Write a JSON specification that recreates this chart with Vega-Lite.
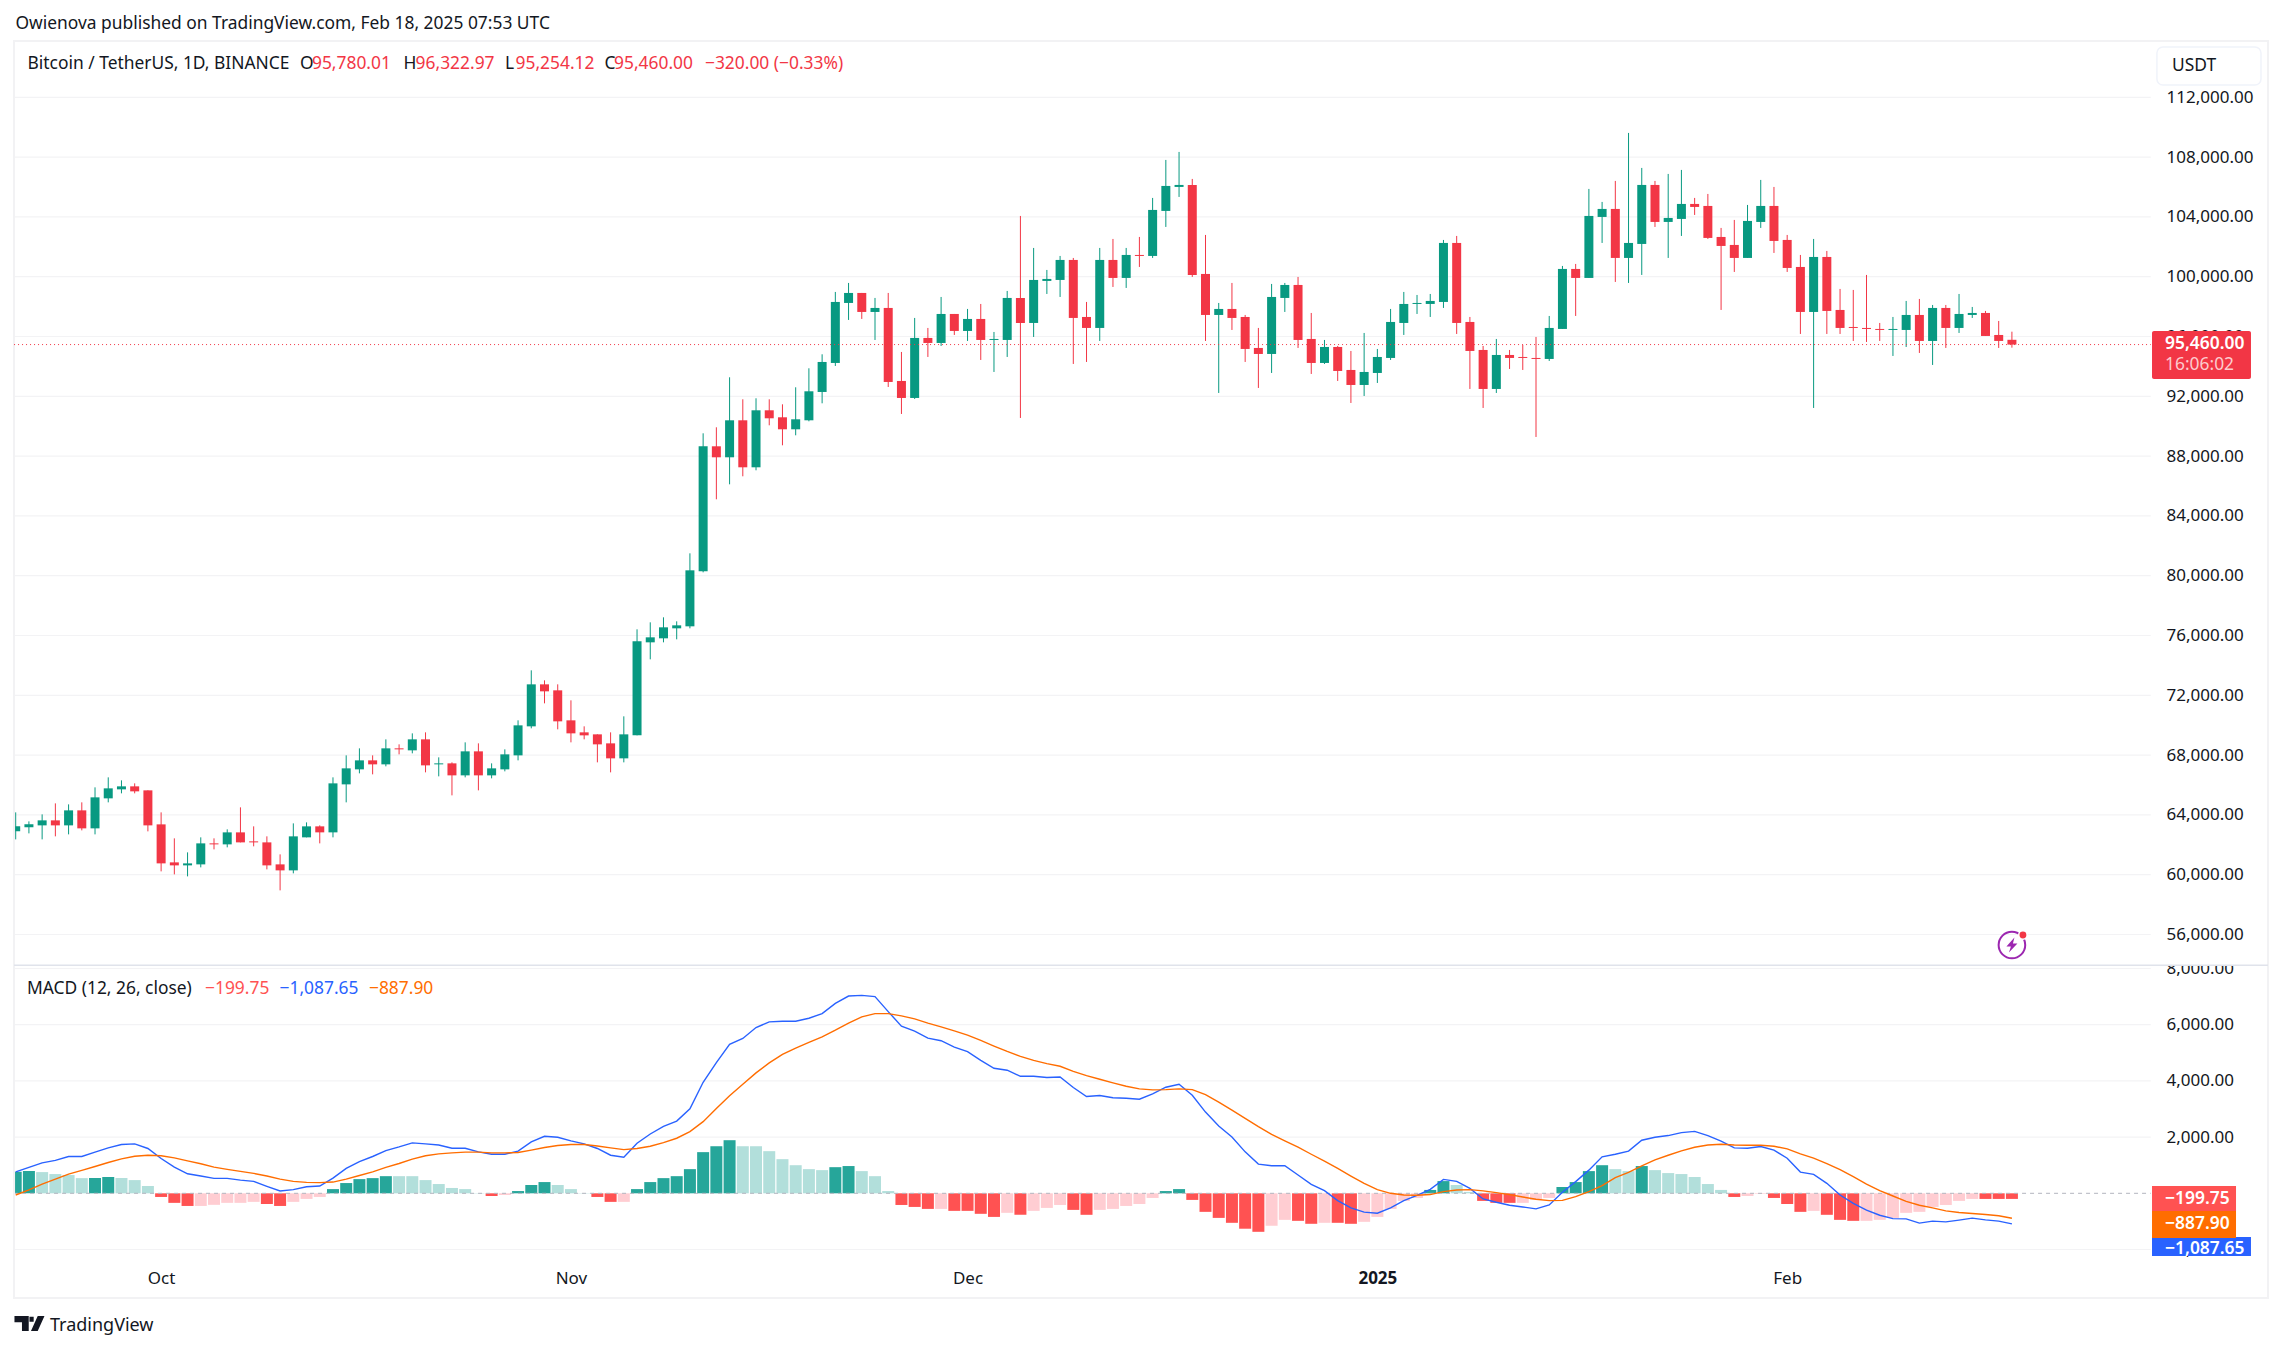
{
"$schema":"https://vega.github.io/schema/vega-lite/v6.json",
"width":2283,"height":1351,"padding":0,"background":"#ffffff",
"config":{"view":{"stroke":null},"text":{"font":"Noto Sans","fontSize":17.4,"align":"left","baseline":"middle"}},
"datasets":{
"bars":[
{"d":"2024-09-20","o":62899,"h":64170,"l":62364,"c":63234,"m":765,"t":"gs","b":765,"s":-60},
{"d":"2024-09-21","o":63167,"h":63568,"l":62765,"c":63367,"m":790,"t":"gs","b":920,"s":120},
{"d":"2024-09-22","o":63300,"h":64036,"l":62364,"c":63635,"m":755,"t":"gl","b":1085,"s":330},
{"d":"2024-09-23","o":63635,"h":64772,"l":62565,"c":63300,"m":685,"t":"gl","b":1170,"s":505},
{"d":"2024-09-24","o":63300,"h":64705,"l":62698,"c":64304,"m":650,"t":"gl","b":1310,"s":685},
{"d":"2024-09-25","o":64304,"h":64839,"l":62966,"c":63100,"m":540,"t":"gl","b":1310,"s":815},
{"d":"2024-09-26","o":63100,"h":65843,"l":62698,"c":65174,"m":545,"t":"gs","b":1465,"s":955},
{"d":"2024-09-27","o":65107,"h":66512,"l":64839,"c":65776,"m":580,"t":"gs","b":1615,"s":1095},
{"d":"2024-09-28","o":65709,"h":66311,"l":65441,"c":65910,"m":545,"t":"gl","b":1735,"s":1225},
{"d":"2024-09-29","o":65910,"h":66110,"l":65441,"c":65575,"m":470,"t":"gl","b":1760,"s":1320},
{"d":"2024-09-30","o":65642,"h":65642,"l":62899,"c":63300,"m":260,"t":"gl","b":1595,"s":1355},
{"d":"2024-10-01","o":63367,"h":64170,"l":60223,"c":60758,"m":-130,"t":"rs","b":1240,"s":1335},
{"d":"2024-10-02","o":60825,"h":62431,"l":60022,"c":60624,"m":-340,"t":"rs","b":930,"s":1260},
{"d":"2024-10-03","o":60624,"h":61494,"l":59889,"c":60758,"m":-450,"t":"rs","b":695,"s":1155},
{"d":"2024-10-04","o":60691,"h":62498,"l":60491,"c":62096,"m":-450,"t":"rl","b":615,"s":1050},
{"d":"2024-10-05","o":62096,"h":62431,"l":61695,"c":62029,"m":-410,"t":"rl","b":530,"s":930},
{"d":"2024-10-06","o":62029,"h":63033,"l":61829,"c":62832,"m":-340,"t":"rl","b":530,"s":850},
{"d":"2024-10-07","o":62832,"h":64505,"l":62163,"c":62163,"m":-340,"t":"rl","b":470,"s":780},
{"d":"2024-10-08","o":62230,"h":63234,"l":61896,"c":62163,"m":-305,"t":"rl","b":425,"s":710},
{"d":"2024-10-09","o":62163,"h":62565,"l":60357,"c":60624,"m":-380,"t":"rs","b":250,"s":615},
{"d":"2024-10-10","o":60691,"h":61360,"l":58952,"c":60290,"m":-450,"t":"rs","b":85,"s":505},
{"d":"2024-10-11","o":60290,"h":63434,"l":60089,"c":62565,"m":-305,"t":"rl","b":130,"s":425},
{"d":"2024-10-12","o":62498,"h":63501,"l":62498,"c":63234,"m":-200,"t":"rl","b":235,"s":390},
{"d":"2024-10-13","o":63234,"h":63300,"l":62096,"c":62832,"m":-130,"t":"rl","b":260,"s":380},
{"d":"2024-10-14","o":62832,"h":66512,"l":62498,"c":66110,"m":150,"t":"gs","b":540,"s":400},
{"d":"2024-10-15","o":66043,"h":67983,"l":64839,"c":67114,"m":365,"t":"gs","b":885,"s":505},
{"d":"2024-10-16","o":67047,"h":68452,"l":66779,"c":67649,"m":505,"t":"gs","b":1130,"s":635},
{"d":"2024-10-17","o":67649,"h":67983,"l":66712,"c":67381,"m":540,"t":"gs","b":1310,"s":765},
{"d":"2024-10-18","o":67381,"h":69054,"l":67248,"c":68452,"m":610,"t":"gs","b":1520,"s":920},
{"d":"2024-10-19","o":68452,"h":68719,"l":68050,"c":68385,"m":610,"t":"gl","b":1650,"s":1060},
{"d":"2024-10-20","o":68318,"h":69455,"l":68117,"c":69054,"m":610,"t":"gl","b":1795,"s":1215},
{"d":"2024-10-21","o":69054,"h":69522,"l":66846,"c":67314,"m":470,"t":"gl","b":1760,"s":1335},
{"d":"2024-10-22","o":67381,"h":67850,"l":66579,"c":67448,"m":330,"t":"gl","b":1720,"s":1405},
{"d":"2024-10-23","o":67448,"h":67515,"l":65307,"c":66645,"m":190,"t":"gl","b":1605,"s":1440},
{"d":"2024-10-24","o":66645,"h":68853,"l":66512,"c":68251,"m":150,"t":"gl","b":1605,"s":1465},
{"d":"2024-10-25","o":68251,"h":68786,"l":65642,"c":66645,"m":10,"t":"gl","b":1475,"s":1465},
{"d":"2024-10-26","o":66645,"h":67448,"l":66445,"c":67114,"m":-95,"t":"rs","b":1390,"s":1440},
{"d":"2024-10-27","o":67047,"h":68385,"l":66913,"c":68050,"m":-60,"t":"rl","b":1390,"s":1440},
{"d":"2024-10-28","o":67983,"h":70325,"l":67649,"c":69990,"m":80,"t":"gs","b":1500,"s":1450},
{"d":"2024-10-29","o":69924,"h":73670,"l":69790,"c":72733,"m":295,"t":"gs","b":1830,"s":1535},
{"d":"2024-10-30","o":72733,"h":73001,"l":71462,"c":72265,"m":400,"t":"gs","b":2030,"s":1630},
{"d":"2024-10-31","o":72332,"h":72733,"l":69723,"c":70258,"m":295,"t":"gl","b":1995,"s":1700},
{"d":"2024-11-01","o":70325,"h":71663,"l":68853,"c":69455,"m":150,"t":"gl","b":1865,"s":1735},
{"d":"2024-11-02","o":69522,"h":69924,"l":69054,"c":69321,"m":10,"t":"gl","b":1760,"s":1735},
{"d":"2024-11-03","o":69388,"h":69388,"l":67515,"c":68719,"m":-130,"t":"rs","b":1595,"s":1685},
{"d":"2024-11-04","o":68786,"h":69522,"l":66846,"c":67783,"m":-305,"t":"rs","b":1355,"s":1615},
{"d":"2024-11-05","o":67783,"h":70593,"l":67515,"c":69388,"m":-305,"t":"rl","b":1285,"s":1555},
{"d":"2024-11-06","o":69321,"h":76413,"l":69321,"c":75610,"m":150,"t":"gs","b":1780,"s":1595},
{"d":"2024-11-07","o":75543,"h":76881,"l":74406,"c":75878,"m":400,"t":"gs","b":2110,"s":1675},
{"d":"2024-11-08","o":75811,"h":77216,"l":75543,"c":76547,"m":540,"t":"gs","b":2385,"s":1805},
{"d":"2024-11-09","o":76480,"h":76948,"l":75744,"c":76680,"m":610,"t":"gs","b":2570,"s":1960},
{"d":"2024-11-10","o":76614,"h":81497,"l":76480,"c":80360,"m":860,"t":"gs","b":3010,"s":2195},
{"d":"2024-11-11","o":80293,"h":89525,"l":80226,"c":88656,"m":1465,"t":"gs","b":3950,"s":2550},
{"d":"2024-11-12","o":88656,"h":89927,"l":85110,"c":87920,"m":1675,"t":"gs","b":4650,"s":3020},
{"d":"2024-11-13","o":87920,"h":93272,"l":86113,"c":90395,"m":1890,"t":"gs","b":5300,"s":3470},
{"d":"2024-11-14","o":90395,"h":91800,"l":86649,"c":87251,"m":1675,"t":"gl","b":5510,"s":3880},
{"d":"2024-11-15","o":87251,"h":91867,"l":87050,"c":91064,"m":1675,"t":"gl","b":5900,"s":4285},
{"d":"2024-11-16","o":91064,"h":91800,"l":90060,"c":90529,"m":1500,"t":"gl","b":6100,"s":4640},
{"d":"2024-11-17","o":90596,"h":91465,"l":88722,"c":89793,"m":1215,"t":"gl","b":6125,"s":4945},
{"d":"2024-11-18","o":89793,"h":92603,"l":89391,"c":90462,"m":1000,"t":"gl","b":6125,"s":5170},
{"d":"2024-11-19","o":90395,"h":93874,"l":90328,"c":92335,"m":860,"t":"gl","b":6230,"s":5370},
{"d":"2024-11-20","o":92290,"h":94810,"l":91532,"c":94297,"m":825,"t":"gl","b":6395,"s":5570},
{"d":"2024-11-21","o":94230,"h":98980,"l":94029,"c":98311,"m":930,"t":"gs","b":6760,"s":5805},
{"d":"2024-11-22","o":98244,"h":99582,"l":97107,"c":98913,"m":970,"t":"gs","b":7020,"s":6055},
{"d":"2024-11-23","o":98913,"h":98913,"l":97174,"c":97642,"m":790,"t":"gl","b":7045,"s":6280},
{"d":"2024-11-24","o":97642,"h":98579,"l":95769,"c":97910,"m":610,"t":"gl","b":7000,"s":6395},
{"d":"2024-11-25","o":97910,"h":98913,"l":92624,"c":92959,"m":80,"t":"gl","b":6465,"s":6395},
{"d":"2024-11-26","o":93026,"h":94966,"l":90818,"c":91889,"m":-415,"t":"rs","b":5950,"s":6315},
{"d":"2024-11-27","o":91889,"h":97241,"l":91822,"c":95903,"m":-485,"t":"rs","b":5770,"s":6205},
{"d":"2024-11-28","o":95903,"h":96572,"l":94631,"c":95568,"m":-555,"t":"rs","b":5520,"s":6055},
{"d":"2024-11-29","o":95568,"h":98645,"l":95367,"c":97508,"m":-555,"t":"rl","b":5430,"s":5925},
{"d":"2024-11-30","o":97508,"h":97508,"l":96103,"c":96371,"m":-625,"t":"rs","b":5205,"s":5780},
{"d":"2024-12-01","o":96371,"h":97843,"l":95702,"c":97174,"m":-625,"t":"rs","b":5040,"s":5630},
{"d":"2024-12-02","o":97174,"h":98177,"l":94431,"c":95769,"m":-730,"t":"rs","b":4730,"s":5440},
{"d":"2024-12-03","o":95769,"h":96304,"l":93628,"c":95836,"m":-840,"t":"rs","b":4450,"s":5240},
{"d":"2024-12-04","o":95769,"h":99047,"l":94631,"c":98579,"m":-695,"t":"rl","b":4380,"s":5050},
{"d":"2024-12-05","o":98579,"h":104064,"l":90550,"c":96906,"m":-765,"t":"rs","b":4165,"s":4875},
{"d":"2024-12-06","o":96906,"h":101924,"l":95969,"c":99783,"m":-625,"t":"rl","b":4165,"s":4730},
{"d":"2024-12-07","o":99716,"h":100452,"l":98846,"c":99850,"m":-520,"t":"rl","b":4120,"s":4615},
{"d":"2024-12-08","o":99783,"h":101388,"l":98645,"c":101121,"m":-415,"t":"rl","b":4140,"s":4520},
{"d":"2024-12-09","o":101121,"h":101255,"l":94163,"c":97241,"m":-590,"t":"rs","b":3765,"s":4340},
{"d":"2024-12-10","o":97307,"h":98311,"l":94297,"c":96572,"m":-765,"t":"rs","b":3445,"s":4190},
{"d":"2024-12-11","o":96572,"h":101924,"l":95702,"c":101121,"m":-590,"t":"rl","b":3480,"s":4060},
{"d":"2024-12-12","o":101121,"h":102526,"l":99314,"c":99917,"m":-555,"t":"rl","b":3400,"s":3930},
{"d":"2024-12-13","o":99917,"h":101924,"l":99248,"c":101455,"m":-450,"t":"rl","b":3385,"s":3810},
{"d":"2024-12-14","o":101455,"h":102659,"l":100652,"c":101388,"m":-380,"t":"rl","b":3350,"s":3715},
{"d":"2024-12-15","o":101388,"h":105269,"l":101255,"c":104466,"m":-165,"t":"rl","b":3540,"s":3680},
{"d":"2024-12-16","o":104399,"h":107811,"l":103328,"c":106071,"m":80,"t":"gs","b":3775,"s":3690},
{"d":"2024-12-17","o":106004,"h":108346,"l":105335,"c":106138,"m":150,"t":"gs","b":3880,"s":3715},
{"d":"2024-12-18","o":106138,"h":106540,"l":99983,"c":100117,"m":-235,"t":"rs","b":3490,"s":3690},
{"d":"2024-12-19","o":100184,"h":102793,"l":95702,"c":97441,"m":-660,"t":"rs","b":2890,"s":3515},
{"d":"2024-12-20","o":97441,"h":98244,"l":92223,"c":97843,"m":-875,"t":"rs","b":2395,"s":3245},
{"d":"2024-12-21","o":97843,"h":99582,"l":96438,"c":97241,"m":-1050,"t":"rs","b":2005,"s":2960},
{"d":"2024-12-22","o":97307,"h":97441,"l":94297,"c":95167,"m":-1260,"t":"rs","b":1475,"s":2665},
{"d":"2024-12-23","o":95234,"h":96572,"l":92558,"c":94832,"m":-1370,"t":"rs","b":1040,"s":2370},
{"d":"2024-12-24","o":94832,"h":99515,"l":93561,"c":98645,"m":-1155,"t":"rl","b":980,"s":2100},
{"d":"2024-12-25","o":98579,"h":99582,"l":97642,"c":99448,"m":-945,"t":"rl","b":980,"s":1865},
{"d":"2024-12-26","o":99448,"h":99983,"l":95234,"c":95769,"m":-980,"t":"rs","b":650,"s":1640},
{"d":"2024-12-27","o":95836,"h":97575,"l":93494,"c":94230,"m":-1085,"t":"rs","b":320,"s":1390},
{"d":"2024-12-28","o":94230,"h":95769,"l":94163,"c":95300,"m":-1050,"t":"rl","b":95,"s":1145},
{"d":"2024-12-29","o":95300,"h":95367,"l":93026,"c":93695,"m":-1050,"t":"rs","b":-260,"s":885},
{"d":"2024-12-30","o":93762,"h":95033,"l":91554,"c":92758,"m":-1085,"t":"rs","b":-520,"s":615},
{"d":"2024-12-31","o":92758,"h":96237,"l":92022,"c":93628,"m":-1015,"t":"rl","b":-670,"s":355},
{"d":"2025-01-01","o":93561,"h":95167,"l":92892,"c":94631,"m":-840,"t":"rl","b":-710,"s":130},
{"d":"2025-01-02","o":94565,"h":97843,"l":94431,"c":96973,"m":-555,"t":"rl","b":-520,"s":0},
{"d":"2025-01-03","o":96906,"h":98980,"l":96103,"c":98177,"m":-270,"t":"rl","b":-260,"s":-60},
{"d":"2025-01-04","o":98177,"h":98779,"l":97508,"c":98244,"m":-165,"t":"rl","b":-70,"s":-70},
{"d":"2025-01-05","o":98177,"h":98846,"l":97307,"c":98378,"m":120,"t":"gs","b":140,"s":-45},
{"d":"2025-01-06","o":98311,"h":102459,"l":97910,"c":102258,"m":435,"t":"gs","b":495,"s":60},
{"d":"2025-01-07","o":102258,"h":102726,"l":96170,"c":96906,"m":295,"t":"gl","b":425,"s":120},
{"d":"2025-01-08","o":96973,"h":97307,"l":92491,"c":95033,"m":50,"t":"gl","b":175,"s":130},
{"d":"2025-01-09","o":95100,"h":95367,"l":91220,"c":92491,"m":-270,"t":"rs","b":-200,"s":85},
{"d":"2025-01-10","o":92491,"h":95836,"l":92223,"c":94765,"m":-340,"t":"rs","b":-320,"s":25},
{"d":"2025-01-11","o":94765,"h":95100,"l":93829,"c":94565,"m":-340,"t":"rs","b":-425,"s":-45},
{"d":"2025-01-12","o":94631,"h":95434,"l":93762,"c":94565,"m":-340,"t":"rl","b":-485,"s":-130},
{"d":"2025-01-13","o":94565,"h":95969,"l":89279,"c":94498,"m":-235,"t":"rl","b":-555,"s":-210},
{"d":"2025-01-14","o":94498,"h":97374,"l":94364,"c":96572,"m":-165,"t":"rl","b":-415,"s":-260},
{"d":"2025-01-15","o":96505,"h":100719,"l":96505,"c":100519,"m":225,"t":"gs","b":35,"s":-250},
{"d":"2025-01-16","o":100519,"h":100853,"l":97374,"c":99917,"m":400,"t":"gs","b":415,"s":-120},
{"d":"2025-01-17","o":99917,"h":105871,"l":99917,"c":104064,"m":790,"t":"gs","b":825,"s":60},
{"d":"2025-01-18","o":103997,"h":105001,"l":102258,"c":104533,"m":1000,"t":"gs","b":1300,"s":270},
{"d":"2025-01-19","o":104533,"h":106406,"l":99649,"c":101255,"m":860,"t":"gl","b":1390,"s":555},
{"d":"2025-01-20","o":101255,"h":109617,"l":99582,"c":102258,"m":790,"t":"gl","b":1500,"s":745},
{"d":"2025-01-21","o":102191,"h":107276,"l":100117,"c":106138,"m":970,"t":"gs","b":1890,"s":980},
{"d":"2025-01-22","o":106138,"h":106406,"l":103328,"c":103663,"m":825,"t":"gl","b":1995,"s":1190},
{"d":"2025-01-23","o":103663,"h":106874,"l":101255,"c":103930,"m":720,"t":"gl","b":2055,"s":1355},
{"d":"2025-01-24","o":103864,"h":107142,"l":102726,"c":104867,"m":685,"t":"gl","b":2160,"s":1510},
{"d":"2025-01-25","o":104867,"h":105269,"l":104131,"c":104666,"m":580,"t":"gl","b":2205,"s":1640},
{"d":"2025-01-26","o":104733,"h":105536,"l":102526,"c":102593,"m":330,"t":"gl","b":2055,"s":1720},
{"d":"2025-01-27","o":102659,"h":103262,"l":97776,"c":102057,"m":120,"t":"gl","b":1855,"s":1745},
{"d":"2025-01-28","o":102124,"h":103797,"l":100318,"c":101255,"m":-130,"t":"rs","b":1615,"s":1720},
{"d":"2025-01-29","o":101255,"h":104800,"l":101255,"c":103730,"m":-95,"t":"rl","b":1605,"s":1710},
{"d":"2025-01-30","o":103663,"h":106473,"l":103262,"c":104733,"m":-20,"t":"rl","b":1665,"s":1710},
{"d":"2025-01-31","o":104733,"h":106004,"l":101589,"c":102392,"m":-165,"t":"rs","b":1535,"s":1675},
{"d":"2025-02-01","o":102459,"h":102793,"l":100318,"c":100585,"m":-380,"t":"rs","b":1250,"s":1580},
{"d":"2025-02-02","o":100652,"h":101455,"l":96170,"c":97642,"m":-660,"t":"rs","b":755,"s":1405},
{"d":"2025-02-03","o":97642,"h":102526,"l":91220,"c":101321,"m":-625,"t":"rl","b":675,"s":1250},
{"d":"2025-02-04","o":101321,"h":101723,"l":96170,"c":97709,"m":-765,"t":"rs","b":355,"s":1060},
{"d":"2025-02-05","o":97776,"h":99181,"l":96170,"c":96572,"m":-945,"t":"rs","b":-60,"s":840},
{"d":"2025-02-06","o":96638,"h":99114,"l":95702,"c":96572,"m":-980,"t":"rs","b":-355,"s":590},
{"d":"2025-02-07","o":96572,"h":100117,"l":95635,"c":96505,"m":-980,"t":"rl","b":-600,"s":330},
{"d":"2025-02-08","o":96505,"h":96906,"l":95702,"c":96438,"m":-945,"t":"rl","b":-780,"s":95},
{"d":"2025-02-09","o":96438,"h":97307,"l":94698,"c":96505,"m":-875,"t":"rl","b":-900,"s":-95},
{"d":"2025-02-10","o":96438,"h":98378,"l":95300,"c":97441,"m":-695,"t":"rl","b":-910,"s":-285},
{"d":"2025-02-11","o":97441,"h":98512,"l":94899,"c":95702,"m":-660,"t":"rl","b":-1060,"s":-425},
{"d":"2025-02-12","o":95702,"h":98110,"l":94096,"c":97910,"m":-485,"t":"rl","b":-990,"s":-520},
{"d":"2025-02-13","o":97910,"h":98110,"l":95234,"c":96572,"m":-415,"t":"rl","b":-1015,"s":-625},
{"d":"2025-02-14","o":96572,"h":98846,"l":96237,"c":97508,"m":-270,"t":"rl","b":-955,"s":-685},
{"d":"2025-02-15","o":97441,"h":97976,"l":97241,"c":97575,"m":-200,"t":"rl","b":-885,"s":-720},
{"d":"2025-02-16","o":97575,"h":97709,"l":96036,"c":96036,"m":-200,"t":"rs","b":-945,"s":-755},
{"d":"2025-02-17","o":96103,"h":97040,"l":95234,"c":95702,"m":-200,"t":"rs","b":-990,"s":-800},
{"d":"2025-02-18","o":95780.01,"h":96322.97,"l":95254.12,"c":95460,"m":-199.75,"t":"rs","b":-1087.65,"s":-887.9}
],
"months":[{"d":"2024-10-01"},{"d":"2024-11-01"},{"d":"2024-12-01"},{"d":"2025-01-01"},{"d":"2025-02-01"}],
"priceGrid":[{"d":"2024-09-19T21:00:00Z","d2":"2025-02-28T12:00:00Z","p":56000},{"d":"2024-09-19T21:00:00Z","d2":"2025-02-28T12:00:00Z","p":60000},{"d":"2024-09-19T21:00:00Z","d2":"2025-02-28T12:00:00Z","p":64000},{"d":"2024-09-19T21:00:00Z","d2":"2025-02-28T12:00:00Z","p":68000},{"d":"2024-09-19T21:00:00Z","d2":"2025-02-28T12:00:00Z","p":72000},{"d":"2024-09-19T21:00:00Z","d2":"2025-02-28T12:00:00Z","p":76000},{"d":"2024-09-19T21:00:00Z","d2":"2025-02-28T12:00:00Z","p":80000},{"d":"2024-09-19T21:00:00Z","d2":"2025-02-28T12:00:00Z","p":84000},{"d":"2024-09-19T21:00:00Z","d2":"2025-02-28T12:00:00Z","p":88000},{"d":"2024-09-19T21:00:00Z","d2":"2025-02-28T12:00:00Z","p":92000},{"d":"2024-09-19T21:00:00Z","d2":"2025-02-28T12:00:00Z","p":96000},{"d":"2024-09-19T21:00:00Z","d2":"2025-02-28T12:00:00Z","p":100000},{"d":"2024-09-19T21:00:00Z","d2":"2025-02-28T12:00:00Z","p":104000},{"d":"2024-09-19T21:00:00Z","d2":"2025-02-28T12:00:00Z","p":108000},{"d":"2024-09-19T21:00:00Z","d2":"2025-02-28T12:00:00Z","p":112000}],
"macdGrid":[{"d":"2024-09-19T21:00:00Z","d2":"2025-02-28T12:00:00Z","v":-2000},{"d":"2024-09-19T21:00:00Z","d2":"2025-02-28T12:00:00Z","v":2000},{"d":"2024-09-19T21:00:00Z","d2":"2025-02-28T12:00:00Z","v":4000},{"d":"2024-09-19T21:00:00Z","d2":"2025-02-28T12:00:00Z","v":6000},{"d":"2024-09-19T21:00:00Z","d2":"2025-02-28T12:00:00Z","v":8000}],
"macdBoxes":[
{"d":"2025-02-28T14:20:00Z","d2":"2025-03-06T22:50:00Z","top":260,"bot":-633,"role":"rs"},
{"d":"2025-02-28T14:20:00Z","d2":"2025-03-08T02:00:00Z","top":-1555,"bot":-2231,"role":"blue"},
{"d":"2025-02-28T14:20:00Z","d2":"2025-03-06T22:50:00Z","top":-633,"bot":-1594,"role":"orange"}
],
"macdNotes":[
{"d":"2024-09-20T20:30:00Z","v":7270,"txt":"MACD (12, 26, close)","role":"ink"},
{"d":"2024-10-04T07:40:00Z","v":7270,"txt":"−199.75","role":"rs"},
{"d":"2024-10-09T23:00:00Z","v":7270,"txt":"−1,087.65","role":"blue"},
{"d":"2024-10-16T17:20:00Z","v":7270,"txt":"−887.90","role":"orange"}
],
"macdTags":[
{"d":"2025-03-01T14:00:00Z","v":-203,"txt":"−199.75"},
{"d":"2025-03-01T14:00:00Z","v":-1093,"txt":"−887.90"},
{"d":"2025-03-01T14:00:00Z","v":-1982,"txt":"−1,087.65"}
],
"notes":[
{"d":"2024-09-19T23:40:00Z","p":116903,"txt":"Owienova published on TradingView.com, Feb 18, 2025 07:53 UTC","role":"ink"},
{"d":"2024-09-20T21:25:00Z","p":114227,"txt":"Bitcoin / TetherUS, 1D, BINANCE","role":"ink"},
{"d":"2024-10-11T12:00:00Z","p":114227,"txt":"O","role":"ink"},
{"d":"2024-10-12T09:50:00Z","p":114227,"txt":"95,780.01","role":"down"},
{"d":"2024-10-19T08:00:00Z","p":114227,"txt":"H","role":"ink"},
{"d":"2024-10-20T06:00:00Z","p":114227,"txt":"96,322.97","role":"down"},
{"d":"2024-10-27T00:15:00Z","p":114227,"txt":"L","role":"ink"},
{"d":"2024-10-27T19:25:00Z","p":114227,"txt":"95,254.12","role":"down"},
{"d":"2024-11-03T13:00:00Z","p":114227,"txt":"C","role":"ink"},
{"d":"2024-11-04T06:15:00Z","p":114227,"txt":"95,460.00","role":"down"},
{"d":"2024-11-11T03:20:00Z","p":114227,"txt":"−320.00 (−0.33%)","role":"down"},
{"d":"2025-03-02T02:40:00Z","p":114094,"txt":"USDT","role":"ink"},
{"d":"2025-03-01T14:00:00Z","p":94094,"txt":"16:06:02","role":"pale"}
]
},
"encoding":{
"x":{"field":"d","type":"temporal","title":null,
"scale":{"type":"utc","nice":false,"padding":0,"domain":[{"year":2024,"month":9,"date":20,"utc":true},{"year":2025,"month":2,"date":28,"hours":12,"utc":true}],"range":[15.7,2150.73]},
"axis":{"title":null,"orient":"bottom","offset":-95,"grid":false,"domain":false,"ticks":false,"labelPadding":14,"labelFont":"Noto Sans","labelFontSize":17,"labelColor":"#131722","labelOverlap":false,"labelFlush":false,
"values":[{"year":2024,"month":10,"date":1,"utc":true},{"year":2024,"month":11,"date":1,"utc":true},{"year":2024,"month":12,"date":1,"utc":true},{"year":2025,"month":1,"date":1,"utc":true},{"year":2025,"month":2,"date":1,"utc":true}],
"labelExpr":"utcmonth(datum.value)==0 ? '2025' : utcFormat(datum.value,'%b')",
"labelFontWeight":{"condition":{"test":"utcmonth(datum.value)==0","value":700},"value":400}}}
},
"layer":[
{"encoding":{"y":{"field":"p","type":"quantitative","title":null,
"scale":{"domain":[53960,115766],"range":[965,41],"nice":false,"zero":false},
"axis":{"title":null,"orient":"right","offset":-132,"grid":false,"domain":false,"ticks":false,"labelPadding":15,"labelFont":"Noto Sans","labelFontSize":17,"labelColor":"#131722","labelOverlap":false,"labelBound":false,"format":",.2f","values":[56000,60000,64000,68000,72000,76000,80000,84000,88000,92000,96000,100000,104000,108000,112000]}}},
"layer":[
{"data":{"name":"priceGrid"},"mark":{"type":"rule","stroke":"#f3f3f5","strokeWidth":1.2},"encoding":{"x2":{"field":"d2"}}},
{"data":{"name":"months"},"mark":{"type":"rule","stroke":"#f3f3f5","strokeWidth":1.2},"encoding":{"y":{"datum":115766,"type":"quantitative"},"y2":{"datum":53960}}},
{"data":{"name":"bars"},"mark":{"type":"rule","strokeWidth":1},"encoding":{"y":{"field":"l","type":"quantitative"},"y2":{"field":"h"},"stroke":{"condition":{"test":"datum.c>=datum.o","value":"#089981"},"value":"#f23645"}}},
{"data":{"name":"bars"},"mark":{"type":"bar","size":9},"encoding":{"y":{"field":"o","type":"quantitative"},"y2":{"field":"c"},"fill":{"condition":{"test":"datum.c>=datum.o","value":"#089981"},"value":"#f23645"}}}
]},
{"encoding":{"y":{"field":"v","type":"quantitative","title":null,
"scale":{"domain":[-2231,8089],"range":[1256,966],"nice":false,"zero":false},
"axis":{"title":null,"orient":"right","offset":-132,"grid":false,"domain":false,"ticks":false,"labelPadding":15,"labelFont":"Noto Sans","labelFontSize":17,"labelColor":"#131722","labelOverlap":false,"labelBound":false,"format":",.2f","values":[-2000,0,2000,4000,6000,8000]}}},
"layer":[
{"data":{"name":"macdGrid"},"mark":{"type":"rule","stroke":"#f3f3f5","strokeWidth":1.2},"encoding":{"x2":{"field":"d2"}}},
{"data":{"name":"months"},"mark":{"type":"rule","stroke":"#f3f3f5","strokeWidth":1.2},"encoding":{"y":{"datum":8089,"type":"quantitative"},"y2":{"datum":-2231}}},
{"data":{"name":"bars"},"mark":{"type":"bar","size":12},"encoding":{"y":{"field":"m","type":"quantitative"},"y2":{"datum":0},"fill":{"field":"t","type":"nominal","legend":null,"scale":{"domain":["gs","gl","rs","rl","blue","orange"],"range":["#26a69a","#b2dfdb","#ff5252","#ffcdd2","#2962ff","#ff6d00"]}}}},
{"data":{"values":[{"d":"2024-09-19T21:00:00Z","d2":"2025-02-28T12:00:00Z","v":0}]},"mark":{"type":"rule","stroke":"#b2b5be","strokeWidth":1,"strokeDash":[4,4]},"encoding":{"x2":{"field":"d2"}}},
{"data":{"name":"bars"},"mark":{"type":"line","stroke":"#2962ff","strokeWidth":1.4,"interpolate":"linear"},"encoding":{"y":{"field":"b","type":"quantitative"}}},
{"data":{"name":"bars"},"mark":{"type":"line","stroke":"#ff6d00","strokeWidth":1.4,"interpolate":"linear"},"encoding":{"y":{"field":"s","type":"quantitative"}}},
{"data":{"name":"macdBoxes"},"mark":{"type":"rect"},"encoding":{"x2":{"field":"d2"},"y":{"field":"top","type":"quantitative"},"y2":{"field":"bot"},"fill":{"field":"role","type":"nominal","legend":null,"scale":{"domain":["gs","gl","rs","rl","blue","orange"],"range":["#26a69a","#b2dfdb","#ff5252","#ffcdd2","#2962ff","#ff6d00"]}}}},
{"data":{"name":"macdTags"},"mark":{"type":"text","fill":"#ffffff","fontWeight":600},"encoding":{"text":{"field":"txt"}}},
{"data":{"name":"macdNotes"},"transform":[{"filter":"datum.role=='ink'"}],"mark":{"type":"text","fill":"#131722"},"encoding":{"text":{"field":"txt"}}},
{"data":{"name":"macdNotes"},"transform":[{"filter":"datum.role=='rs'"}],"mark":{"type":"text","fill":"#ff5252"},"encoding":{"text":{"field":"txt"}}},
{"data":{"name":"macdNotes"},"transform":[{"filter":"datum.role=='blue'"}],"mark":{"type":"text","fill":"#2962ff"},"encoding":{"text":{"field":"txt"}}},
{"data":{"name":"macdNotes"},"transform":[{"filter":"datum.role=='orange'"}],"mark":{"type":"text","fill":"#ff6d00"},"encoding":{"text":{"field":"txt"}}}
]},
{"encoding":{"y":{"field":"p","type":"quantitative","title":null,
"scale":{"domain":[53960,115766],"range":[965,41],"nice":false,"zero":false},"axis":null}},
"layer":[
{"data":{"values":[{"d":"2024-09-18T19:30:00Z","d2":"2024-09-19T21:00:00Z","p":115766,"p2":34495},{"d":"2025-02-28T14:20:00Z","d2":"2025-03-09T08:50:00Z","p":54636,"p2":53966}]},"mark":{"type":"rect","fill":"#ffffff"},"encoding":{"x2":{"field":"d2"},"y2":{"field":"p2"}}},
{"data":{"values":[{"d":"2024-09-19T21:00:00Z","d2":"2025-03-09T08:50:00Z","p":115766,"p2":31686}]},"mark":{"type":"rect","fill":"transparent","stroke":"#f2f2f4","strokeWidth":2},"encoding":{"x2":{"field":"d2"},"y2":{"field":"p2"}}},
{"data":{"values":[{"d":"2024-09-19T21:00:00Z","d2":"2025-03-09T08:50:00Z","p":53950}]},"mark":{"type":"rule","stroke":"#e0e3eb","strokeWidth":1.5},"encoding":{"x2":{"field":"d2"}}},
{"data":{"values":[{"d":"2024-09-19T21:00:00Z","d2":"2025-02-28T12:00:00Z","p":95460}]},"mark":{"type":"rule","stroke":"#f23645","strokeWidth":1,"strokeDash":[1,3]},"encoding":{"x2":{"field":"d2"}}},
{"data":{"values":[{"d":"2025-02-28T14:20:00Z","d2":"2025-03-08T02:00:00Z","p":96368,"p2":93157}]},"mark":{"type":"rect","fill":"#f23645","cornerRadius":2},"encoding":{"x2":{"field":"d2"},"y2":{"field":"p2"}}},
{"data":{"values":[{"d":"2025-02-28T23:15:00Z","d2":"2025-03-08T20:10:00Z","p":115365,"p2":112823}]},"mark":{"type":"rect","fill":"#ffffff","stroke":"#f0f3fa","strokeWidth":1.5,"cornerRadius":6},"encoding":{"x2":{"field":"d2"},"y2":{"field":"p2"}}},
{"data":{"values":[{"d":"2025-03-01T14:00:00Z","p":95498,"txt":"95,460.00"}]},"mark":{"type":"text","fill":"#ffffff","fontWeight":600},"encoding":{"text":{"field":"txt"}}},
{"data":{"name":"notes"},"transform":[{"filter":"datum.role=='ink'"}],"mark":{"type":"text","fill":"#131722"},"encoding":{"text":{"field":"txt"}}},
{"data":{"name":"notes"},"transform":[{"filter":"datum.role=='down'"}],"mark":{"type":"text","fill":"#f23645"},"encoding":{"text":{"field":"txt"}}},
{"data":{"name":"notes"},"transform":[{"filter":"datum.role=='pale'"}],"mark":{"type":"text","fill":"#fccbcd"},"encoding":{"text":{"field":"txt"}}},
{"data":{"values":[{"d":"2024-09-22T14:10:00Z","p":29813,"txt":"TradingView"}]},"mark":{"type":"text","fill":"#131722","fontSize":18},"encoding":{"text":{"field":"txt"}}},
{"data":{"values":[{"d":"2024-09-21T01:00:00Z","p":29980}]},"mark":{"type":"point","filled":true,"fill":"#131722","stroke":null,"size":900,"opacity":1,"shape":"M-1,-0.5 L-0.05,-0.5 L-0.05,0.5 L-0.5,0.5 L-0.5,-0.08 L-1,-0.08 Z M0,-0.45 L0.28,-0.45 L0.28,-0.12 L0,-0.12 Z M0.55,-0.5 L1,-0.5 L0.55,0.5 L0.1,0.5 Z"}},
{"data":{"values":[{"d":"2025-02-18","p":55297}]},"mark":{"type":"point","shape":"circle","filled":false,"stroke":"#9c27b0","strokeWidth":2,"size":707,"opacity":1}},
{"data":{"values":[{"d":"2025-02-18","p":55297}]},"mark":{"type":"point","filled":true,"fill":"#9c27b0","stroke":null,"size":400,"opacity":1,"shape":"M0.25,-0.75 L-0.55,0.15 L-0.1,0.15 L-0.3,0.75 L0.55,-0.15 L0.1,-0.15 Z"}},
{"data":{"values":[{"d":"2025-02-18T20:00:00Z","p":55966}]},"mark":{"type":"point","shape":"circle","filled":true,"fill":"#f23645","stroke":"#ffffff","strokeWidth":1.5,"size":70,"opacity":1}}
]}
],
"resolve":{"scale":{"y":"independent"},"axis":{"y":"independent"}}
}
